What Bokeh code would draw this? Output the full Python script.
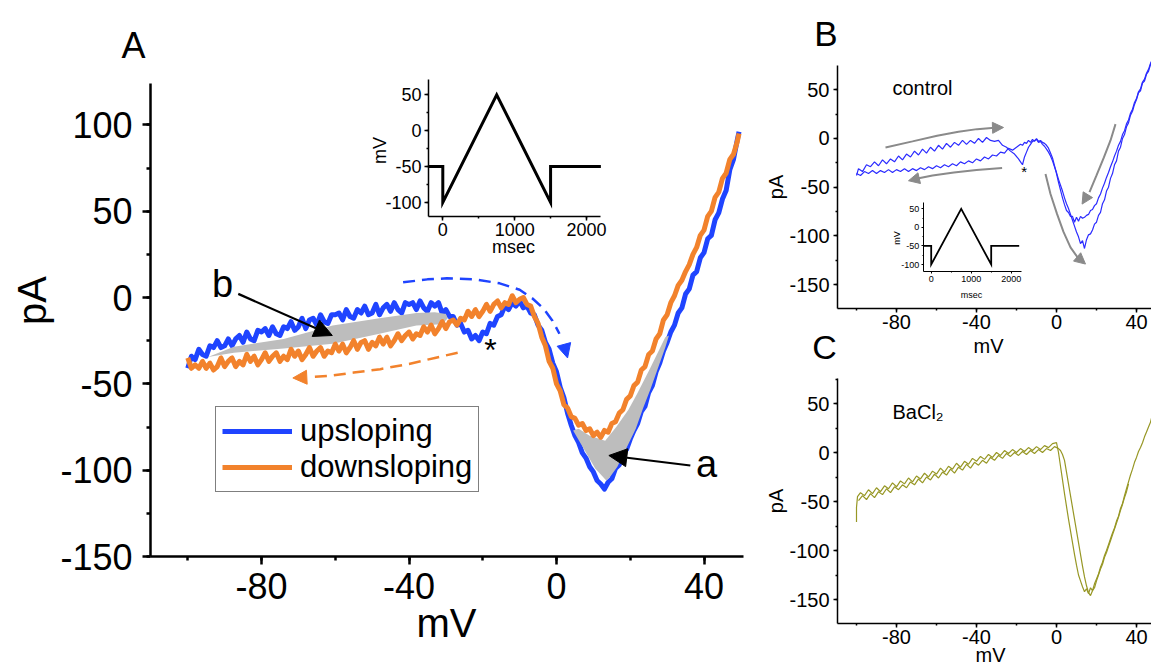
from math import pi
from bokeh.plotting import figure
from bokeh.models import (Range1d, LinearAxis, SingleIntervalTicker, Label, Arrow,
                          NormalHead, Legend, LegendItem, PrintfTickFormatter)
from bokeh.layouts import row, column
from bokeh.embed import file_html
from bokeh.resources import INLINE

FONT = "Liberation Sans"
BLUE = "#1f44ff"
ORANGE = "#f2822c"
SHADE = "#bdbdbd"
CTRL_BLUE = "#2b2bff"
OLIVE = "#979725"
GUIDE = "#8a8a8a"

# ---------------- Panel A data (mV, pA) ----------------
UP_MV = [
    -100, -99, -98, -97, -96, -95, -94, -93, -92, -91,
    -90, -89, -88, -87, -86, -85, -84, -83, -82, -81,
    -80, -79, -78, -77, -76, -75, -74, -73, -72, -71,
    -70, -69, -68, -67, -66, -65, -64, -63, -62, -61,
    -60, -59, -58, -57, -56, -55, -54, -53, -52, -51,
    -50, -49, -48, -47, -46, -45, -44, -43, -42, -41,
    -40, -39, -38, -37, -36, -35, -34, -33, -32, -31,
    -30, -29, -28, -27, -26, -25, -24, -23, -22, -21,
    -20, -19, -18, -17, -16, -15, -14, -13, -12, -11,
    -10, -9, -8, -7, -6, -5, -4, -3, -2, -1,
    0, 1, 2, 3, 4, 5, 6, 7, 8, 9,
    10, 11, 12, 13, 14, 15, 16, 17, 18, 19,
    20, 21, 22, 23, 24, 25, 26, 27, 28, 29,
    30, 31, 32, 33, 34, 35, 36, 37, 38, 39,
    40, 41, 42, 43, 44, 45, 46, 47, 48, 49,
    49.5]
UP_PA = [
    -41, -34, -36, -30, -33, -34, -28, -29, -25, -29,
    -28, -24, -28, -24, -22, -26, -20, -24, -25, -19,
    -20, -18, -22, -17, -21, -22, -17, -18, -14, -19,
    -17, -12, -18, -13, -12, -16, -10, -14, -15, -10,
    -10, -9, -13, -7, -11, -12, -7, -9, -5, -10,
    -9, -4, -10, -6, -4, -8, -3, -7, -9, -3,
    -4, -3, -7, -2, -6, -8, -3, -5, -3, -9,
    -7, -11, -11, -16, -15, -20, -19, -24, -22, -25,
    -20, -21, -15, -16, -11, -10, -5, -7, -3, -5,
    -2, -6, -5, -9, -10, -16, -19, -26, -30, -38,
    -43, -52, -58, -67, -74, -80, -84, -90, -93, -98,
    -101, -106, -108, -111, -107, -105, -99, -97, -90, -88,
    -82, -77, -73, -66, -63, -55, -51, -43, -38, -31,
    -26, -20, -16, -9, -6, 2, 5, 13, 15, 23,
    26, 34, 36, 45, 49, 57, 62, 74, 80, 91,
    96]
DOWN_MV = [
    49.5, 49, 48, 47, 46, 45, 44, 43, 42, 41,
    40, 39, 38, 37, 36, 35, 34, 33, 32, 31,
    30, 29, 28, 27, 26, 25, 24, 23, 22, 21,
    20, 19, 18, 17, 16, 15, 14, 13, 12, 11,
    10, 9, 8, 7, 6, 5, 4, 3, 2, 1,
    0, -1, -2, -3, -4, -5, -6, -7, -8, -9,
    -10, -11, -12, -13, -14, -15, -16, -17, -18, -19,
    -20, -21, -22, -23, -24, -25, -26, -27, -28, -29,
    -30, -31, -32, -33, -34, -35, -36, -37, -38, -39,
    -40, -41, -42, -43, -44, -45, -46, -47, -48, -49,
    -50, -51, -52, -53, -54, -55, -56, -57, -58, -59,
    -60, -61, -62, -63, -64, -65, -66, -67, -68, -69,
    -70, -71, -72, -73, -74, -75, -76, -77, -78, -79,
    -80, -81, -82, -83, -84, -85, -86, -87, -88, -89,
    -90, -91, -92, -93, -94, -95, -96, -97, -98, -99,
    -100]
DOWN_PA = [
    95, 90, 83, 80, 72, 69, 61, 58, 50, 47,
    39, 36, 29, 25, 19, 15, 10, 7, 1, -3,
    -10, -13, -21, -24, -31, -33, -40, -42, -49, -51,
    -57, -59, -65, -67, -72, -73, -78, -77, -81, -78,
    -80, -76, -77, -73, -74, -70, -69, -64, -62, -54,
    -50, -41, -37, -28, -23, -15, -11, -5, -4, 0,
    -1, -3, 1, -4, -3, -6, -2, -4, -8, -4,
    -8, -11, -7, -11, -8, -13, -12, -16, -13, -14,
    -18, -14, -18, -21, -16, -20, -17, -22, -21, -24,
    -20, -22, -25, -21, -25, -28, -23, -27, -23, -28,
    -26, -30, -25, -26, -30, -25, -29, -32, -27, -31,
    -27, -32, -31, -34, -29, -31, -34, -29, -33, -36,
    -31, -34, -30, -36, -34, -37, -32, -34, -37, -32,
    -36, -39, -34, -37, -33, -39, -37, -40, -35, -37,
    -40, -35, -40, -42, -38, -41, -37, -41, -39, -41,
    -35]
# shaded hysteresis areas "b" and "a"
SHADE_B_MV = [-94.5, -87.5, -74, -60.7, -48, -38, -33, -30, -29.5, -31, -38, -48, -60.7, -74, -87.5]
SHADE_B_PA = [-34.5, -28.5, -24, -16.2, -12, -9, -8.5, -9.5, -12, -15.5, -16.2, -21, -26.8, -29.5, -32]
SHADE_A_MV = [4.5, 7.5, 10.5, 13.5, 14.5, 16.5, 19, 21.5, 23.5, 25.5, 27.5, 29.5, 30.5,
              29.5, 25.4, 21.8, 19.5, 16.2, 13.2, 9, 6]
SHADE_A_PA = [-77, -88, -99, -106, -104, -98, -87, -76, -64, -53, -41, -29, -22,
              -23, -41, -56, -65, -75, -83, -80, -76]
# voltage protocol (insets)
PROTOCOL_MS = [-200, 0, 0, 750, 1500, 1500, 2200]
PROTOCOL_MV = [-50, -50, -100, 50, -100, -50, -50]

# ---------------- Panel B (control) ----------------
CTRL_UP_MV = [
    -100, -99, -97, -95, -93, -91, -89, -87, -85, -83,
    -81, -79, -77, -75, -73, -71, -69, -67, -65, -63,
    -61, -59, -57, -55, -53, -51, -49, -47, -45, -43,
    -41, -39, -37, -35, -33, -31, -29, -27, -25, -23,
    -21, -19, -18, -17, -16, -15, -14, -13, -12, -11,
    -10, -9, -8, -7, -6, -5, -4, -3, -2, -1,
    0, 1, 2, 3, 4, 5, 6, 7, 8, 9,
    10, 11, 12, 13, 14, 15, 16, 17, 18, 19,
    20, 21, 22, 23, 24, 25, 26, 27, 28, 29,
    30, 31, 32, 33, 34, 35, 36, 37, 38, 39,
    40, 41, 42, 43, 44, 45, 46, 47, 47.5]
CTRL_UP_PA = [
    -38, -31, -34, -27, -29, -24, -28, -22, -26, -21,
    -24, -18, -22, -16, -19, -13, -17, -11, -15, -9,
    -13, -7, -11, -5, -9, -4, -7, -2, -6, -2,
    -5, 0, -4, 1, -2, -3, -2, -7, -9, -13,
    -16, -21, -24, -27, -19, -14, -9, -6, -3, -2,
    -1, -4, -3, -6, -8, -11, -14, -18, -23, -29,
    -35, -42, -48, -54, -61, -67, -72, -78, -84, -90,
    -96, -101, -108, -105, -113, -104, -99, -98, -94, -88,
    -86, -79, -76, -67, -63, -54, -50, -41, -36, -27,
    -23, -13, -9, 0, 4, 12, 16, 24, 28, 35,
    40, 47, 49, 57, 59, 66, 69, 76, 79]
CTRL_DOWN_MV = [
    47.5, 47, 46, 45, 44, 43, 42, 41, 40, 39,
    38, 37, 36, 35, 34, 33, 32, 31, 30, 29,
    28, 27, 26, 25, 24, 23, 22, 21, 20, 19,
    18, 17, 16, 15, 14, 13, 12, 11, 10, 9,
    8, 7, 6, 5, 4, 3, 2, 1, 0, -1,
    -2, -3, -4, -5, -6, -7, -8, -9, -10, -11,
    -12, -13, -14, -15, -16, -17, -18, -20, -22, -24,
    -26, -28, -30, -32, -34, -36, -38, -40, -42, -44,
    -46, -48, -50, -52, -54, -56, -58, -60, -62, -64,
    -66, -68, -70, -72, -74, -76, -78, -80, -82, -84,
    -86, -88, -90, -92, -94, -96, -98, -100]
CTRL_DOWN_PA = [
    79, 77, 71, 67, 61, 58, 51, 48, 41, 37,
    30, 26, 19, 15, 8, 4, -3, -7, -13, -18,
    -24, -29, -35, -40, -46, -51, -57, -61, -67, -69,
    -73, -74, -78, -79, -81, -82, -80, -85, -81, -86,
    -80, -80, -76, -74, -68, -61, -53, -45, -36, -28,
    -20, -15, -10, -7, -5, -4, -2, -3, 0, -3,
    -1, -4, -2, -5, -4, -7, -6, -9, -12, -10,
    -15, -14, -18, -17, -21, -19, -23, -21, -25, -23,
    -26, -24, -28, -26, -29, -27, -30, -28, -31, -29,
    -32, -30, -33, -31, -34, -31, -34, -32, -35, -32,
    -35, -33, -36, -33, -36, -34, -38, -36]

# ---------------- Panel C (BaCl2) ----------------
BACL1_MV = [
    -100, -100, -99.5, -98, -96, -94, -92, -90, -88, -86,
    -84, -82, -80, -78, -76, -74, -72, -70, -68, -66,
    -64, -62, -60, -58, -56, -54, -52, -50, -48, -46,
    -44, -42, -40, -38, -36, -34, -32, -30, -28, -26,
    -24, -22, -20, -18, -16, -14, -12, -10, -8, -6,
    -4, -2, 0, 1, 2, 3, 4, 5, 6, 7,
    8, 9, 10, 11, 12, 13, 14, 15, 16, 17,
    18, 19, 20, 21, 22, 23, 24, 25, 26, 27,
    28, 29, 30, 31, 32, 33, 34, 35, 36, 37,
    38, 39, 40, 41, 42, 43, 44, 45, 46, 47,
    47.5]
BACL1_PA = [
    -71, -56, -45, -41, -44, -38, -42, -36, -40, -34,
    -37, -31, -35, -29, -32, -26, -30, -24, -27, -21,
    -25, -19, -22, -16, -20, -14, -17, -11, -15, -9,
    -12, -6, -9, -4, -7, -2, -5, 0, -3, 2,
    -1, 3, 0, 4, 1, 5, 2, 6, 3, 7,
    5, 9, 10, 0, -14, -28, -42, -55, -68, -80,
    -92, -104, -115, -125, -131, -137, -142, -139, -144, -138,
    -141, -134, -129, -124, -117, -112, -105, -100, -94, -88,
    -82, -77, -70, -65, -57, -52, -44, -37, -30, -23,
    -17, -10, -5, 1, 5, 10, 16, 21, 26, 31,
    35]
BACL2_MV = [
    -99, -97, -95, -93, -91, -89, -87, -85, -83, -81,
    -79, -77, -75, -73, -71, -69, -67, -65, -63, -61,
    -59, -57, -55, -53, -51, -49, -47, -45, -43, -41,
    -39, -37, -35, -33, -31, -29, -27, -25, -23, -21,
    -19, -17, -15, -13, -11, -9, -7, -5, -3, -1,
    1, 2, 3, 4, 5, 6, 7, 8, 9, 10,
    11, 12, 13, 14, 15, 16, 17, 18, 19, 20,
    21, 22, 23, 24, 25, 26, 27, 28, 29, 30,
    31, 32, 33, 34, 35, 36]
BACL2_PA = [
    -49, -44, -48, -42, -46, -40, -43, -37, -41, -35,
    -38, -33, -36, -30, -33, -27, -31, -25, -28, -22,
    -26, -20, -23, -17, -21, -15, -18, -12, -16, -10,
    -13, -8, -11, -5, -8, -3, -6, -1, -4, 0,
    -3, 1, -2, 2, -1, 3, 0, 4, 2, 6,
    4, 2, -2, -8, -20, -32, -44, -56, -68, -80,
    -92, -104, -116, -127, -136, -143, -146, -141, -138, -131,
    -125, -119, -114, -107, -102, -96, -90, -84, -78, -72,
    -66, -59, -53, -46, -40, -32]

for _a, _b in [(UP_MV, UP_PA), (DOWN_MV, DOWN_PA), (CTRL_UP_MV, CTRL_UP_PA),
               (CTRL_DOWN_MV, CTRL_DOWN_PA), (BACL1_MV, BACL1_PA), (BACL2_MV, BACL2_PA),
               (SHADE_A_MV, SHADE_A_PA), (SHADE_B_MV, SHADE_B_PA)]:
    assert len(_a) == len(_b), (len(_a), len(_b))


# ---------------- helpers ----------------
def lin(d0, p0, d1, p1):
    """image pixel -> data value, for a linear scale known through two reference ticks"""
    s = (p1 - p0) / (d1 - d0)
    return lambda px: d0 + (px - p0) / s


def make_fig(x0, y0, w, h, xmap, ymap):
    """figure whose frame fills the whole canvas placed at image position (x0, y0)"""
    p = figure(width=w, height=h, x_range=Range1d(xmap(x0), xmap(x0 + w)),
               y_range=Range1d(ymap(y0 + h), ymap(y0)), output_backend="svg",
               toolbar_location=None, x_axis_type=None, y_axis_type=None,
               min_border_left=0, min_border_right=0, min_border_top=0, min_border_bottom=0)
    p.outline_line_color = None
    p.background_fill_color = "white"
    p.border_fill_color = "white"
    return p


def add_axis(p, side, loc, bounds, interval, font_px, lw, t_out, m_out, standoff,
             x_range_name="default", y_range_name="default"):
    ax = LinearAxis(fixed_location=loc, bounds=bounds,
                    ticker=SingleIntervalTicker(interval=interval, num_minor_ticks=2),
                    formatter=PrintfTickFormatter(format="%d"),
                    x_range_name=x_range_name, y_range_name=y_range_name)
    ax.axis_line_color = "black"
    ax.axis_line_width = lw
    ax.major_tick_line_color = "black"
    ax.minor_tick_line_color = "black"
    ax.major_tick_line_width = lw
    ax.minor_tick_line_width = lw
    ax.major_tick_in = 0
    ax.minor_tick_in = 0
    ax.major_tick_out = t_out
    ax.minor_tick_out = m_out
    ax.major_label_text_font = FONT
    ax.major_label_text_font_size = f"{font_px}px"
    ax.major_label_text_color = "black"
    ax.major_label_standoff = standoff
    p.add_layout(ax, side)
    return ax


def text(p, x, y, s, px, align="center", angle=0.0):
    """label centred (vertically) on the given point"""
    p.add_layout(Label(x=x, y=y, text=s, text_font=FONT, text_font_size=f"{px}px",
                       text_align=align, text_baseline="middle", angle=angle,
                       text_color="black"))


def head(p, x0, y0, x1, y1, color, size, lw=0.0):
    p.add_layout(Arrow(end=NormalHead(size=size, fill_color=color, line_color=color, line_width=1),
                       x_start=x0, y_start=y0, x_end=x1, y_end=y1, line_color=color,
                       line_width=lw if lw else 1, line_alpha=1 if lw else 0))


# ---------------- Panel A ----------------
OX, OY = 0, 0                        # page origin (Bokeh's page has no body margin)
PAGE_W, PAGE_H = 1151, 666
A_W, A_H = 763, PAGE_H
A_L, A_R, A_B, A_TOP = 150, 743, 556, 83
ax_ = lin(-80, 261, 40, 703.5)
ay_ = lin(0, 297, -150, 556)
aix_ = lin(0, 442.3, 2000, 586)
aiy_ = lin(-100, 202, 50, 94.3)

pA = make_fig(OX, OY, A_W, A_H, ax_, ay_)
pA.extra_x_ranges = {"ix": Range1d(aix_(OX), aix_(OX + A_W))}
pA.extra_y_ranges = {"iy": Range1d(aiy_(OY + A_H), aiy_(OY))}

add_axis(pA, "below", -150, (ax_(A_L), ax_(A_R)), 40, 36, 2.5, 8, 4, 8)
add_axis(pA, "left", ax_(A_L), (-150, ay_(A_TOP)), 50, 36, 2.5, 8, 4, 10)
text(pA, ax_(446), ay_(622), "mV", 40)
text(pA, ax_(31), ay_(300), "pA", 40, angle=pi / 2)
text(pA, ax_(133), ay_(45), "A", 36)

r_up = pA.line(UP_MV, UP_PA, line_color=BLUE, line_width=5, line_join="round")
pA.patch(SHADE_B_MV, SHADE_B_PA, fill_color=SHADE, line_color=None)
pA.patch(SHADE_A_MV, SHADE_A_PA, fill_color=SHADE, line_color=None)
r_dn = pA.line(DOWN_MV, DOWN_PA, line_color=ORANGE, line_width=5, line_join="round")

# direction guides (dashed)
pA.line([-41.6, -35, -29.7, -22, -15.4, -10, -6.5, -3.5, -1.1, 0.8],
        [8.8, 10.5, 11.1, 10.5, 8.2, 4.5, -0.6, -6.5, -13.4, -21],
        line_color=BLUE, line_width=2.5, line_dash="12 7")
head(pA, 1.6, -24, 3.0, -35, BLUE, 14)
pA.line([-26.8, -33, -40, -47.8, -55, -62, -66],
        [-32, -35, -38.5, -41.5, -43.5, -45.5, -46],
        line_color=ORANGE, line_width=2.5, line_dash="12 7")
head(pA, -66, -46, -71.5, -46.6, ORANGE, 14)

# pointer arrows and labels
head(pA, -86.3, 2.1, -60.8, -22, "black", 18, lw=2.2)
head(pA, 36.3, -97.3, 14.2, -91.5, "black", 18, lw=2.2)
text(pA, ax_(222), ay_(283), "b", 38)
text(pA, ax_(706), ay_(463), "a", 38)
text(pA, ax_(490), ay_(349), "*", 32)

leg = Legend(items=[LegendItem(label="upsloping", renderers=[r_up]),
                    LegendItem(label="downsloping", renderers=[r_dn])],
             location=(215 - OX, OY + A_H - 492), label_text_font=FONT,
             label_text_font_size="31px", label_text_color="black", glyph_width=70,
             glyph_height=30, label_height=36, label_standoff=8, padding=6, spacing=0,
             margin=0, border_line_color="black", border_line_width=1.5,
             background_fill_alpha=1.0)
pA.add_layout(leg)

# inset: voltage protocol
pA.line(PROTOCOL_MS, PROTOCOL_MV, x_range_name="ix", y_range_name="iy",
        line_color="black", line_width=3, line_join="miter")
add_axis(pA, "left", -200, (-119, 71), 50, 18, 1.5, 4, 2, 3, "ix", "iy")
add_axis(pA, "below", -119, (-200, 2200), 1000, 18, 1.5, 4, 2, 3, "ix", "iy")
text(pA, ax_(379), ay_(150), "mV", 18, angle=pi / 2)
text(pA, ax_(513), ay_(246), "msec", 18)

# ---------------- Panel B ----------------
R_X0 = OX + A_W                     # left edge of the right column (763)
B_W, B_H = PAGE_W - A_W, 365
B_L, B_R, B_T, B_B = 837, PAGE_W, 65, 308
bx_ = lin(-80, 896, 40, 1136)
by_ = lin(50, 89.3, -150, 284)
bix_ = lin(0, 930.7, 2000, 1010.7)
biy_ = lin(50, 208.3, -100, 264)

pB = make_fig(R_X0, OY, B_W, B_H, bx_, by_)
pB.extra_x_ranges = {"ix": Range1d(bix_(R_X0), bix_(R_X0 + B_W))}
pB.extra_y_ranges = {"iy": Range1d(biy_(OY + B_H), biy_(OY))}
add_axis(pB, "below", by_(B_B), (bx_(B_L), bx_(B_R)), 40, 20, 1.5, 4, 2, 2)
add_axis(pB, "left", bx_(B_L), (by_(B_B), by_(B_T)), 50, 20, 1.5, 4, 2, 4)
text(pB, bx_(988), by_(345), "mV", 20)
text(pB, bx_(775), by_(186.5), "pA", 20, angle=pi / 2)

pB.line(CTRL_UP_MV, CTRL_UP_PA, line_color=CTRL_BLUE, line_width=1.2)
pB.line(CTRL_DOWN_MV, CTRL_DOWN_PA, line_color=CTRL_BLUE, line_width=1.2)

pB.line([-85.5, -72, -59.7, -49, -39.7, -31], [-9.2, -3, 2.8, 6.8, 9.6, 11],
        line_color=GUIDE, line_width=2)
head(pB, -31, 11, -26.5, 11.3, GUIDE, 11)
pB.line([-27.2, -40, -51.3, -62, -69.5], [-30.4, -32.5, -34.9, -38, -41.2],
        line_color=GUIDE, line_width=2)
head(pB, -69.5, -41.2, -74, -43.4, GUIDE, 11)
pB.line([-5.5, -3, 0.3, 3.5, 7, 10.5], [-36.6, -57, -77.7, -96, -111.9, -122],
        line_color=GUIDE, line_width=2)
head(pB, 10.5, -122, 14.5, -129, GUIDE, 11)
pB.line([29.5, 27, 23.7, 20, 16.5], [14.7, -2, -19.5, -38, -55],
        line_color=GUIDE, line_width=2)
head(pB, 16.5, -55, 12.8, -67.4, GUIDE, 11)

text(pB, bx_(1023.7), by_(170.5), "*", 15)
text(pB, bx_(892), by_(87), "control", 20, align="left")
text(pB, bx_(825.5), by_(32.5), "B", 35)
text(pB, bx_(824), by_(346), "C", 34)

pB.line(PROTOCOL_MS, PROTOCOL_MV, x_range_name="ix", y_range_name="iy",
        line_color="black", line_width=1.8, line_join="miter")
add_axis(pB, "left", -200, (-120, 67), 50, 9, 1, 2, 1, 2, "ix", "iy")
add_axis(pB, "below", -120, (-200, 2250), 1000, 9, 1, 2, 1, 2, "ix", "iy")
text(pB, bx_(896), by_(237.5), "mV", 9, angle=pi / 2)
text(pB, bx_(971), by_(294), "msec", 9)

# ---------------- Panel C ----------------
C_Y0 = OY + B_H
C_H = PAGE_H - B_H
C_T, C_B = 378, 623
cy_ = lin(50, 403, -150, 599)

pC = make_fig(R_X0, C_Y0, B_W, C_H, bx_, cy_)
add_axis(pC, "below", cy_(C_B), (bx_(B_L), bx_(B_R)), 40, 20, 1.5, 4, 2, 2)
add_axis(pC, "left", bx_(B_L), (cy_(C_B), cy_(C_T)), 50, 20, 1.5, 4, 2, 4)
text(pC, bx_(775), cy_(500.5), "pA", 20, angle=pi / 2)
text(pC, bx_(990), cy_(654), "mV", 20)

pC.line(BACL1_MV, BACL1_PA, line_color=OLIVE, line_width=1.2)
pC.line(BACL2_MV, BACL2_PA, line_color=OLIVE, line_width=1.2)
text(pC, bx_(892), cy_(411), "BaCl\u2082", 20, align="left")

layout = row(pA, column(pB, pC))
open("out.html", "w").write(file_html(layout, INLINE))
